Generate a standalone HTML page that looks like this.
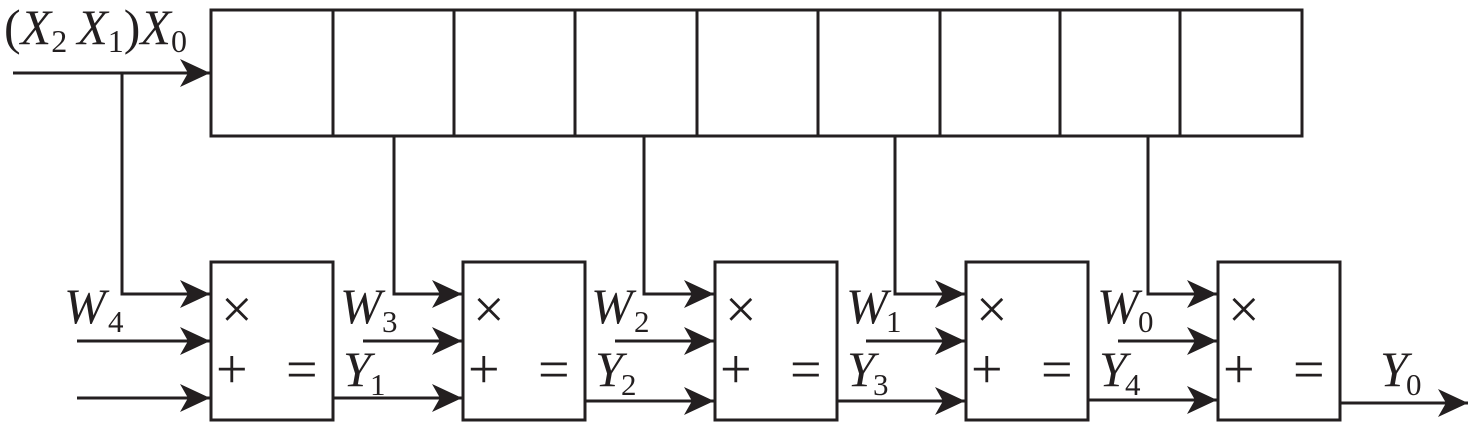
<!DOCTYPE html>
<html><head><style>body{margin:0;background:#fff}svg{display:block}text{font-family:"Liberation Serif",serif;fill:#231f20}</style></head><body>
<svg width="1476" height="422" viewBox="0 0 1476 422" xmlns="http://www.w3.org/2000/svg">
<defs><marker id="a" markerWidth="32" markerHeight="28" refX="30" refY="14" orient="auto" markerUnits="userSpaceOnUse"><path d="M0,0 L30,14 L0,28 L8,14 Z" fill="#231f20"/></marker></defs>
<g stroke="#231f20" stroke-width="3" fill="none">
<rect x="211" y="10" width="1091" height="126"/>
<path d="M333 10V136M454 10V136M575 10V136M697 10V136M818 10V136M940 10V136M1060 10V136M1180 10V136"/>
<rect x="211" y="262" width="122" height="158"/>
<rect x="463" y="262" width="122" height="158"/>
<rect x="715" y="262" width="122" height="158"/>
<rect x="966" y="262" width="122" height="158"/>
<rect x="1218" y="262" width="122" height="158"/>
<g marker-end="url(#a)">
<path d="M13 73H210"/>
<path d="M122 73V294H210"/>
<path d="M77 341H210"/><path d="M77 398H210"/>
<path d="M394 136V294H462"/><path d="M363 341H462"/><path d="M333 398H462"/>
<path d="M644 136V294H714"/><path d="M615 341H714"/><path d="M585 401H714"/>
<path d="M895 136V294H965"/><path d="M866 341H965"/><path d="M837 401H965"/>
<path d="M1148 136V294H1217"/><path d="M1118 341H1217"/><path d="M1088 400H1217"/>
<path d="M1340 403H1468"/>
</g></g>
<text x="4" y="44" font-size="50">(<tspan font-style="italic">X</tspan><tspan font-size="32" dy="8">2</tspan><tspan font-style="italic" dy="-8" dx="10">X</tspan><tspan font-size="32" dy="8">1</tspan><tspan dy="-8">)</tspan><tspan font-style="italic">X</tspan><tspan font-size="32" dy="8">0</tspan></text>
<g font-size="50" font-style="italic">
<text x="64" y="323">W</text><text x="340" y="323">W</text><text x="591" y="323">W</text><text x="846" y="323">W</text><text x="1097" y="323">W</text>
<text x="343" y="386">Y</text><text x="595" y="386">Y</text><text x="847" y="386">Y</text><text x="1099" y="386">Y</text><text x="1380" y="386">Y</text>
</g>
<g font-size="31">
<text x="108" y="332">4</text><text x="382" y="332">3</text><text x="634" y="332">2</text><text x="886" y="332">1</text><text x="1138" y="332">0</text>
<text x="370" y="395">1</text><text x="621" y="395">2</text><text x="873" y="395">3</text><text x="1125" y="395">4</text><text x="1406" y="395">0</text>
</g>
<g font-size="56">
<text x="221" y="328">×</text><text x="473" y="328">×</text><text x="725" y="328">×</text><text x="976" y="328">×</text><text x="1228" y="328">×</text>
<text x="216" y="388">+</text><text x="468" y="388">+</text><text x="720" y="388">+</text><text x="971" y="388">+</text><text x="1223" y="388">+</text>
<text x="286" y="388">=</text><text x="538" y="388">=</text><text x="790" y="388">=</text><text x="1041" y="388">=</text><text x="1293" y="388">=</text>
</g>
</svg></body></html>
